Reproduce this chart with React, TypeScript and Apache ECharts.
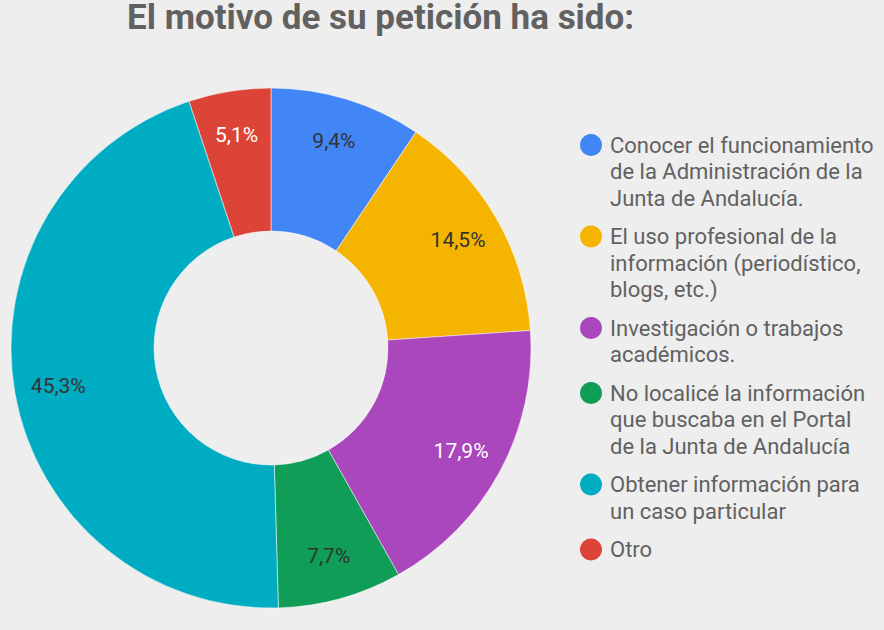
import React, { useEffect, useRef } from "react";
import * as echarts from "echarts";

const TITLE = "El motivo de su petición ha sido:";
const categories = [
  "Conocer el funcionamiento\nde la Administración de la\nJunta de Andalucía.",
  "El uso profesional de la\ninformación (periodístico,\nblogs, etc.)",
  "Investigación o trabajos\nacadémicos.",
  "No localicé la información\nque buscaba en el Portal\nde la Junta de Andalucía",
  "Obtener información para\nun caso particular",
  "Otro",
];
const values = [9.4, 14.5, 17.9, 7.7, 45.3, 5.1];
const colors = ["#4285f4", "#f4b400", "#ab47bc", "#0f9d58", "#00acc1", "#db4437"];
const labelColors = ["#333333", "#333333", "#ffffff", "#333333", "#333333", "#ffffff"];

const FONT = "Roboto";

export default function App() {
  const ref = useRef<HTMLDivElement>(null);
  useEffect(() => {
    document.body.style.margin = "0";
    const chart = echarts.init(ref.current!, undefined, { renderer: "svg" });

    const LINE = 26.5;
    const GAP = 12;
    let y = 145;
    const legendEls: any[] = [];
    categories.forEach((name, i) => {
      const n = name.split("\n").length;
      legendEls.push({
        type: "circle",
        shape: { cx: 591, cy: y, r: 11 },
        style: { fill: colors[i] },
      });
      legendEls.push({
        type: "text",
        x: 610,
        y: y - LINE / 2,
        style: {
          text: name,
          fill: "#616161",
          font: `22px ${FONT}`,
          lineHeight: LINE,
          verticalAlign: "top",
          align: "left",
        },
      });
      y += n * LINE + GAP;
    });

    const data = categories.map((name, i) => ({
      name,
      value: values[i],
      itemStyle: { color: colors[i] },
    }));
    const labelData = categories.map((name, i) => ({
      name,
      value: values[i],
      label: { color: labelColors[i] },
    }));

    chart.setOption({
      animation: false,
      backgroundColor: "#eeeeee",
      title: {
        text: TITLE,
        left: 127,
        top: 0,
        padding: 0,
        textStyle: {
          fontFamily: FONT,
          fontSize: 35,
          fontWeight: "bold",
          color: "#616161",
        },
      },
      graphic: legendEls,
      series: [
        {
          type: "pie",
          center: [271, 348],
          radius: [117, 260],
          startAngle: 90,
          clockwise: true,
          label: { show: false },
          labelLine: { show: false },
          silent: true,
          itemStyle: { borderColor: "rgba(255,255,255,0.5)", borderWidth: 1 },
          data,
        },
        {
          type: "pie",
          center: [271, 348],
          radius: [166, 260],
          startAngle: 90,
          clockwise: true,
          silent: true,
          itemStyle: { color: "rgba(0,0,0,0)" },
          label: {
            show: true,
            position: "inside",
            fontFamily: FONT,
            fontSize: 21,
            formatter: (p: any) => values[p.dataIndex].toFixed(1).replace(".", ",") + "%",
          },
          labelLine: { show: false },
          data: labelData,
        },
      ],
    });
    return () => chart.dispose();
  }, []);
  return <div ref={ref} style={{ width: 884, height: 630 }} />;
}
